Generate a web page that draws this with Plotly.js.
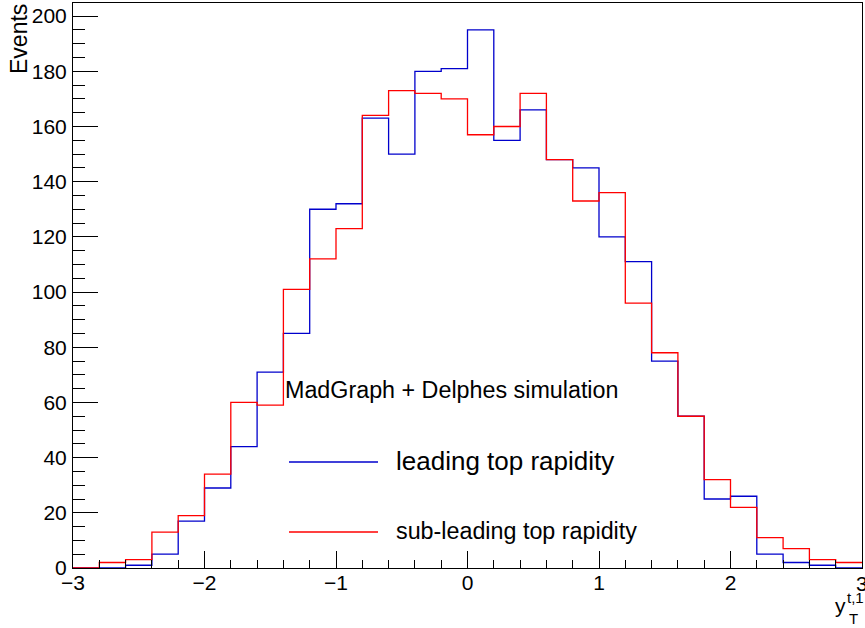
<!DOCTYPE html>
<html>
<head>
<meta charset="utf-8">
<script src="https://cdn.plot.ly/plotly-3.0.1.min.js"></script>
<style>html,body{margin:0;padding:0;background:#fff;}#chart{width:865px;height:628px;}</style>
</head>
<body>
<div id="chart"></div>
<script>
// Bin low edges (width 0.2) from -3 to 2.8, plus the upper edge 3
const binLowEdges = [-3.0,-2.8,-2.6,-2.4,-2.2,-2.0,-1.8,-1.6,-1.4,-1.2,-1.0,-0.8,-0.6,-0.4,-0.2,
                     0.0,0.2,0.4,0.6,0.8,1.0,1.2,1.4,1.6,1.8,2.0,2.2,2.4,2.6,2.8];
const upperEdge = 3.0;
const leadingCounts = [0,0,1,5,17,29,44,71,85,130,132,163,150,180,181,
                       195,155,166,148,145,120,111,75,55,25,26,5,2,1,0];
const subleadingCounts = [0,2,3,13,19,34,60,59,101,112,123,164,173,172,170,
                          157,160,172,148,133,136,96,78,55,32,22,11,7,3,2];
const seriesNames = ["leading top rapidity", "sub-leading top rapidity"];
const headerText = "MadGraph + Delphes simulation";
const yTitle = "Events";
const xTickVals = [-3,-2,-1,0,1,2,3];

function stepTrace(counts, color, name) {
  const x = binLowEdges.concat([upperEdge]);
  const y = counts.concat([counts[counts.length - 1]]);
  return {x: x, y: y, type: "scatter", mode: "lines", name: name,
          line: {shape: "hv", color: color, width: 1.3}, showlegend: false, hoverinfo: "skip"};
}

const W = 865, H = 628, L = 73, R = 3, T = 3, B = 60;
const pw = W - L - R, ph = H - T - B;
function px(xp) { return (xp - L) / pw; }
function py(yp) { return (H - B - yp) / ph; }

const font = "Liberation Sans, Arial, Helvetica, sans-serif";

const data = [
  stepTrace(leadingCounts, "#0000cc", seriesNames[0]),
  stepTrace(subleadingCounts, "#ff0000", seriesNames[1])
];

const layout = {
  width: W, height: H,
  margin: {l: L, r: R, t: T, b: B, pad: 0},
  paper_bgcolor: "#ffffff", plot_bgcolor: "#ffffff",
  font: {family: font, size: 21, color: "#000"},
  showlegend: false,
  xaxis: {
    range: [-3, 3], tickmode: "array", tickvals: xTickVals.slice(0, -1),
    ticktext: xTickVals.slice(0, -1).map(v => v < 0 ? "\u2212" + Math.abs(v) : String(v)),
    ticks: "inside", ticklen: 17, tickcolor: "#000", tickwidth: 1,
    minor: {dtick: 0.2, tick0: 0, ticks: "inside", ticklen: 8, tickcolor: "#000", tickwidth: 1},
    showline: true, linecolor: "#000", linewidth: 1, mirror: true,
    showgrid: false, zeroline: false, tickfont: {family: font, size: 21, color: "#000"},
    ticklabelstandoff: -4,
    fixedrange: true
  },
  yaxis: {
    range: [0, 204.75], dtick: 20, tick0: 0, ticks: "inside", ticklen: 25, tickcolor: "#000", tickwidth: 1,
    minor: {dtick: 5, ticks: "inside", ticklen: 12, tickcolor: "#000", tickwidth: 1},
    showline: true, linecolor: "#000", linewidth: 1, mirror: true,
    showgrid: false, zeroline: false, tickfont: {family: font, size: 21, color: "#000"},
    ticklabelstandoff: 1,
    fixedrange: true
  },
  shapes: [
    {type: "line", xref: "paper", yref: "paper", x0: px(289), x1: px(378), y0: py(462), y1: py(462),
     line: {color: "#0000cc", width: 1.3}},
    {type: "line", xref: "paper", yref: "paper", x0: px(289), x1: px(378), y0: py(532), y1: py(532),
     line: {color: "#ff0000", width: 1.3}}
  ],
  annotations: [
    {text: String(xTickVals[xTickVals.length - 1]), xref: "x", yref: "paper", x: xTickVals[xTickVals.length - 1],
     y: py(583), xanchor: "center", yanchor: "middle", showarrow: false,
     font: {family: font, size: 21, color: "#000"}},
    {text: headerText, xref: "paper", yref: "paper", x: px(283), y: py(390), xanchor: "left", yanchor: "middle",
     showarrow: false, font: {family: font, size: 23.3, color: "#000"}},
    {text: seriesNames[0], xref: "paper", yref: "paper", x: px(394), y: py(461), xanchor: "left", yanchor: "middle",
     showarrow: false, font: {family: font, size: 26, color: "#000"}},
    {text: seriesNames[1], xref: "paper", yref: "paper", x: px(394), y: py(531), xanchor: "left", yanchor: "middle",
     showarrow: false, font: {family: font, size: 23.3, color: "#000"}},
    {text: yTitle, xref: "paper", yref: "paper", x: px(19), y: py(2), xanchor: "center", yanchor: "top",
     textangle: -90, showarrow: false, font: {family: font, size: 23, color: "#000"}},
    {text: "y", xref: "paper", yref: "paper", x: px(848), y: py(605), xanchor: "right", yanchor: "middle",
     showarrow: false, font: {family: font, size: 21, color: "#000"}},
    {text: "t,1", xref: "paper", yref: "paper", x: px(845), y: py(597), xanchor: "left", yanchor: "middle",
     showarrow: false, font: {family: font, size: 15, color: "#000"}},
    {text: "T", xref: "paper", yref: "paper", x: px(847), y: py(618), xanchor: "left", yanchor: "middle",
     showarrow: false, font: {family: font, size: 15, color: "#000"}}
  ]
};

Plotly.newPlot("chart", data, layout, {staticPlot: true, displayModeBar: false});
</script>
</body>
</html>
